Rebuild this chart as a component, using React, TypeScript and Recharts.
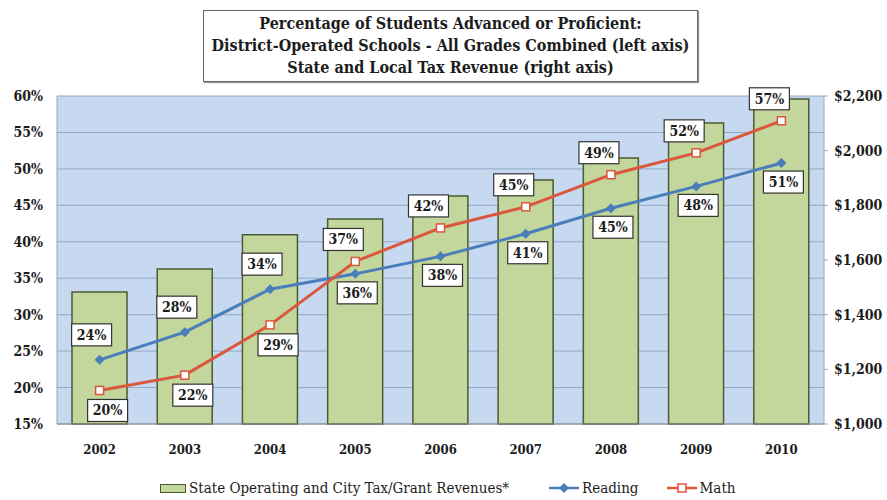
import React from 'react';
import {
  ComposedChart,
  Bar,
  Line,
  XAxis,
  YAxis,
  CartesianGrid,
  LabelList,
} from 'recharts';

const years = ['2002', '2003', '2004', '2005', '2006', '2007', '2008', '2009', '2010'];
const revenue = [1483, 1567, 1692, 1750, 1834, 1893, 1973, 2101, 2189];
const reading = [23.8, 27.6, 33.5, 35.6, 38.0, 41.1, 44.6, 47.6, 50.8];
const math = [19.6, 21.7, 28.6, 37.3, 41.9, 44.8, 49.2, 52.2, 56.6];
const pctTicks = [15, 20, 25, 30, 35, 40, 45, 50, 55, 60];
const revTicks = [1000, 1200, 1400, 1600, 1800, 2000, 2200];
const titleLines = [
  'Percentage of Students Advanced or Proficient:',
  'District-Operated Schools - All Grades Combined (left axis)',
  'State and Local Tax Revenue (right axis)',
];

// where each value tag sits relative to its point
const readingTagPos = ['above', 'above', 'above', 'below', 'below', 'below', 'below', 'below', 'below'];
const mathTagPos = ['below', 'below', 'below', 'above', 'above', 'above', 'above', 'above', 'above'];

const data = years.map((year, i) => ({
  year,
  revenue: revenue[i],
  reading: reading[i],
  math: math[i],
}));

const SERIF = "'DejaVu Serif Condensed', 'DejaVu Serif', serif";
const TEXT = '#1c1c1c';
const PLOT_BG = '#c6d9f1';
const GRID = '#93a8c3';
const BAR_FILL = '#c3d69b';
const BAR_STROKE = '#4b5b33';
const BLUE = '#4a7ebb';
const RED = '#da573b';

const fmtMoney = (v: number) => '$' + v.toLocaleString('en-US');

const ValueTag = (props: any) => {
  const { x, y, value, index, placement, kind } = props;
  if (x == null || y == null) return null;
  const pos = placement[index];
  let dx = 0;
  let dy = 0;
  if (kind === 'reading') {
    dx = pos === 'above' ? -8 : 2;
    dy = pos === 'above' ? -25 : 19;
  } else {
    dx = pos === 'above' ? -12 : 8;
    dy = pos === 'above' ? -22 : 20;
  }
  const cx = x + dx;
  const cy = y + dy;
  const w = 40;
  const h = 22;
  return (
    <g>
      <rect x={cx - w / 2} y={cy - h / 2} width={w} height={h} fill="#fff" stroke="#333" strokeWidth={1.2} />
      <text
        x={cx}
        y={cy + 5}
        textAnchor="middle"
        fontFamily={SERIF}
        fontWeight="bold"
        fontSize={14}
        fill={TEXT}
      >
        {Math.round(value)}%
      </text>
    </g>
  );
};

const Diamond = (props: any) => {
  const { cx, cy } = props;
  if (cx == null || cy == null) return null;
  return <path d={`M${cx},${cy - 5}L${cx + 5},${cy}L${cx},${cy + 5}L${cx - 5},${cy}Z`} fill={BLUE} />;
};

const Square = (props: any) => {
  const { cx, cy } = props;
  if (cx == null || cy == null) return null;
  return <rect x={cx - 4} y={cy - 4} width={8} height={8} fill="#fff" stroke={RED} strokeWidth={1.5} />;
};

const LegendRow = () => (
  <div
    style={{
      position: 'absolute',
      left: 160,
      top: 479,
      display: 'flex',
      alignItems: 'center',
      fontFamily: SERIF,
      fontSize: 15,
      color: TEXT,
      whiteSpace: 'nowrap',
    }}
  >
    <span style={{ display: 'inline-block', width: 24, height: 7, background: BAR_FILL, border: `1.5px solid ${BAR_STROKE}`, marginRight: 3 }} />
    <span style={{ marginRight: 40 }}>State Operating and City Tax/Grant Revenues*</span>
    <svg width={30} height={12} style={{ marginRight: 3 }}>
      <line x1={0} y1={6} x2={30} y2={6} stroke={BLUE} strokeWidth={2.5} />
      <path d="M15,1L20,6L15,11L10,6Z" fill={BLUE} />
    </svg>
    <span style={{ marginRight: 28 }}>Reading</span>
    <svg width={30} height={12} style={{ marginRight: 3 }}>
      <line x1={0} y1={6} x2={30} y2={6} stroke={RED} strokeWidth={2.5} />
      <rect x={11} y={2} width={8} height={8} fill="#fff" stroke={RED} strokeWidth={1.5} />
    </svg>
    <span>Math</span>
  </div>
);

const App = () => {
  return (
    <div style={{ position: 'absolute', left: 0, top: 0, width: 887, height: 500, background: '#fff' }}>
      <div
        style={{
          position: 'absolute',
          left: 203,
          top: 10,
          width: 493,
          height: 68,
          border: '1px solid #666',
          boxShadow: '1px 1px 1px #999',
          fontFamily: SERIF,
          fontWeight: 'bold',
          fontSize: 16,
          lineHeight: '22px',
          textAlign: 'center',
          color: TEXT,
          paddingTop: 2,
          boxSizing: 'content-box',
          whiteSpace: 'nowrap',
        }}
      >
        {titleLines.map((t) => (
          <div key={t}>{t}</div>
        ))}
      </div>
      <ComposedChart
        width={887}
        height={500}
        data={data}
        margin={{ top: 96, right: 0, bottom: 46, left: 0 }}
      >
        <CartesianGrid yAxisId="pct" vertical={false} fill={PLOT_BG} stroke={GRID} strokeWidth={1} />
        <XAxis
          dataKey="year"
          height={30}
          tickSize={0}
          tickMargin={21}
          axisLine={{ stroke: '#8c8c8c' }}
          tick={{ fontFamily: SERIF, fontWeight: 'bold', fontSize: 13, fill: TEXT }}
        />
        <YAxis
          yAxisId="pct"
          width={57}
          domain={[15, 60]}
          ticks={pctTicks}
          tickFormatter={(v: number) => `${v}%`}
          tickSize={0}
          tickMargin={14}
          axisLine={{ stroke: '#9aa6b4' }}
          tick={{ fontFamily: SERIF, fontWeight: 'bold', fontSize: 14, fill: TEXT }}
        />
        <YAxis
          yAxisId="rev"
          orientation="right"
          width={63}
          domain={[1000, 2200]}
          ticks={revTicks}
          tickFormatter={fmtMoney}
          tickSize={4}
          tickMargin={6}
          axisLine={{ stroke: '#9aa6b4' }}
          tickLine={{ stroke: '#9aa6b4' }}
          tick={{ fontFamily: SERIF, fontWeight: 'bold', fontSize: 14, fill: TEXT }}
        />
        <Bar
          yAxisId="rev"
          dataKey="revenue"
          barSize={55}
          fill={BAR_FILL}
          stroke={BAR_STROKE}
          strokeWidth={1.5}
          isAnimationActive={false}
        />
        <Line
          yAxisId="pct"
          dataKey="reading"
          stroke={BLUE}
          strokeWidth={3}
          dot={<Diamond />}
          activeDot={false}
          isAnimationActive={false}
        >
          <LabelList dataKey="reading" content={(p: any) => <ValueTag {...p} placement={readingTagPos} kind="reading" />} />
        </Line>
        <Line
          yAxisId="pct"
          dataKey="math"
          stroke={RED}
          strokeWidth={3}
          dot={<Square />}
          activeDot={false}
          isAnimationActive={false}
        >
          <LabelList dataKey="math" content={(p: any) => <ValueTag {...p} placement={mathTagPos} kind="math" />} />
        </Line>
      </ComposedChart>
      <LegendRow />
    </div>
  );
};

export default App;
